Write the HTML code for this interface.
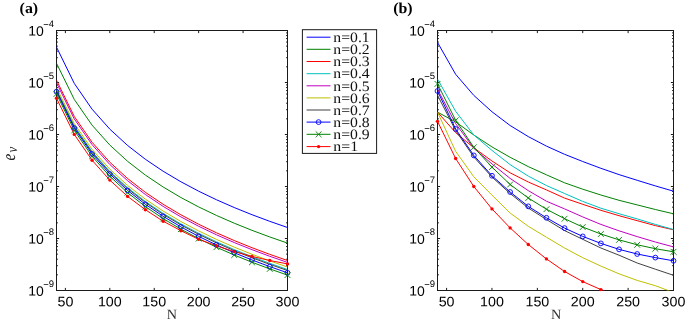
<!DOCTYPE html>
<html lang="en"><head><meta charset="utf-8"><title>Figure</title>
<style>html,body{margin:0;padding:0;background:#fff}body{width:685px;height:323px;overflow:hidden}svg{display:block}text{text-rendering:geometricPrecision}</style>
</head><body>
<svg width="685" height="323" viewBox="0 0 685 323">
<defs>
<clipPath id="ca"><rect x="56.5" y="30.5" width="231.0" height="260.0"/></clipPath>
<clipPath id="cb"><rect x="437.5" y="30.5" width="236.0" height="260.0"/></clipPath>
</defs>
<rect width="685" height="323" fill="#fff"/>
<g stroke="#1a1a1a" stroke-width="1" fill="none">
<rect x="56.5" y="30.5" width="231.0" height="260.0"/>
<path d="M65.38 290.5v-2.6M65.38 30.5v2.6 M109.81 290.5v-2.6M109.81 30.5v2.6 M154.23 290.5v-2.6M154.23 30.5v2.6 M198.65 290.5v-2.6M198.65 30.5v2.6 M243.08 290.5v-2.6M243.08 30.5v2.6 M287.50 290.5v-2.6M287.50 30.5v2.6 M56.5 30.50h2.6M287.5 30.50h-2.6 M56.5 66.85h1.4M287.5 66.85h-1.4 M56.5 57.69h1.4M287.5 57.69h-1.4 M56.5 51.19h1.4M287.5 51.19h-1.4 M56.5 46.15h1.4M287.5 46.15h-1.4 M56.5 42.04h1.4M287.5 42.04h-1.4 M56.5 38.55h1.4M287.5 38.55h-1.4 M56.5 35.54h1.4M287.5 35.54h-1.4 M56.5 32.88h1.4M287.5 32.88h-1.4 M56.5 82.50h2.6M287.5 82.50h-2.6 M56.5 118.85h1.4M287.5 118.85h-1.4 M56.5 109.69h1.4M287.5 109.69h-1.4 M56.5 103.19h1.4M287.5 103.19h-1.4 M56.5 98.15h1.4M287.5 98.15h-1.4 M56.5 94.04h1.4M287.5 94.04h-1.4 M56.5 90.55h1.4M287.5 90.55h-1.4 M56.5 87.54h1.4M287.5 87.54h-1.4 M56.5 84.88h1.4M287.5 84.88h-1.4 M56.5 134.50h2.6M287.5 134.50h-2.6 M56.5 170.85h1.4M287.5 170.85h-1.4 M56.5 161.69h1.4M287.5 161.69h-1.4 M56.5 155.19h1.4M287.5 155.19h-1.4 M56.5 150.15h1.4M287.5 150.15h-1.4 M56.5 146.04h1.4M287.5 146.04h-1.4 M56.5 142.55h1.4M287.5 142.55h-1.4 M56.5 139.54h1.4M287.5 139.54h-1.4 M56.5 136.88h1.4M287.5 136.88h-1.4 M56.5 186.50h2.6M287.5 186.50h-2.6 M56.5 222.85h1.4M287.5 222.85h-1.4 M56.5 213.69h1.4M287.5 213.69h-1.4 M56.5 207.19h1.4M287.5 207.19h-1.4 M56.5 202.15h1.4M287.5 202.15h-1.4 M56.5 198.04h1.4M287.5 198.04h-1.4 M56.5 194.55h1.4M287.5 194.55h-1.4 M56.5 191.54h1.4M287.5 191.54h-1.4 M56.5 188.88h1.4M287.5 188.88h-1.4 M56.5 238.50h2.6M287.5 238.50h-2.6 M56.5 274.85h1.4M287.5 274.85h-1.4 M56.5 265.69h1.4M287.5 265.69h-1.4 M56.5 259.19h1.4M287.5 259.19h-1.4 M56.5 254.15h1.4M287.5 254.15h-1.4 M56.5 250.04h1.4M287.5 250.04h-1.4 M56.5 246.55h1.4M287.5 246.55h-1.4 M56.5 243.54h1.4M287.5 243.54h-1.4 M56.5 240.88h1.4M287.5 240.88h-1.4 M56.5 290.50h2.6M287.5 290.50h-2.6"/>
</g>
<g font-family="'Liberation Sans', Arial, sans-serif" fill="#000">
<text transform="translate(65.38 306.3) rotate(0.2) scale(1.04 1)" font-size="13.7" text-anchor="middle">50</text>
<text transform="translate(109.81 306.3) rotate(0.2) scale(1.04 1)" font-size="13.7" text-anchor="middle">100</text>
<text transform="translate(154.23 306.3) rotate(0.2) scale(1.04 1)" font-size="13.7" text-anchor="middle">150</text>
<text transform="translate(198.65 306.3) rotate(0.2) scale(1.04 1)" font-size="13.7" text-anchor="middle">200</text>
<text transform="translate(243.08 306.3) rotate(0.2) scale(1.04 1)" font-size="13.7" text-anchor="middle">250</text>
<text transform="translate(287.50 306.3) rotate(0.2) scale(1.04 1)" font-size="13.7" text-anchor="middle">300</text>
<text transform="translate(28.20 35.60) rotate(0.2) scale(1.02 1)" font-size="13.7">10</text>
<text transform="translate(43.20 26.90) rotate(0.2) scale(1.0 1)" font-size="9.5"><tspan dy="0.7">−</tspan><tspan dy="-0.7">4</tspan></text>
<text transform="translate(28.20 87.60) rotate(0.2) scale(1.02 1)" font-size="13.7">10</text>
<text transform="translate(43.20 78.90) rotate(0.2) scale(1.0 1)" font-size="9.5"><tspan dy="0.7">−</tspan><tspan dy="-0.7">5</tspan></text>
<text transform="translate(28.20 139.60) rotate(0.2) scale(1.02 1)" font-size="13.7">10</text>
<text transform="translate(43.20 130.90) rotate(0.2) scale(1.0 1)" font-size="9.5"><tspan dy="0.7">−</tspan><tspan dy="-0.7">6</tspan></text>
<text transform="translate(28.20 191.60) rotate(0.2) scale(1.02 1)" font-size="13.7">10</text>
<text transform="translate(43.20 182.90) rotate(0.2) scale(1.0 1)" font-size="9.5"><tspan dy="0.7">−</tspan><tspan dy="-0.7">7</tspan></text>
<text transform="translate(28.20 243.60) rotate(0.2) scale(1.02 1)" font-size="13.7">10</text>
<text transform="translate(43.20 234.90) rotate(0.2) scale(1.0 1)" font-size="9.5"><tspan dy="0.7">−</tspan><tspan dy="-0.7">8</tspan></text>
<text transform="translate(28.20 295.60) rotate(0.2) scale(1.02 1)" font-size="13.7">10</text>
<text transform="translate(43.20 286.90) rotate(0.2) scale(1.0 1)" font-size="9.5"><tspan dy="0.7">−</tspan><tspan dy="-0.7">9</tspan></text>
</g>
<text x="171.90" y="319.3" font-family="'Liberation Serif', serif" font-size="14.2" text-anchor="middle" fill="#333">N</text>
<g clip-path="url(#ca)" fill="none" stroke-linejoin="round">
<polyline points="56.50,47.10 74.27,83.40 92.04,109.16 109.81,129.14 127.58,145.46 145.35,159.26 163.12,171.22 180.88,181.76 198.65,191.20 216.42,199.73 234.19,207.52 251.96,214.69 269.73,221.32 287.50,227.50" stroke="#0000ff" stroke-width="1.0"/>
<polyline points="56.50,63.25 74.27,99.44 92.04,125.12 109.81,145.04 127.58,161.31 145.35,175.07 163.12,186.99 180.88,197.50 198.65,206.91 216.42,215.42 234.19,223.18 251.96,230.33 269.73,236.94 287.50,243.10" stroke="#008000" stroke-width="1.0"/>
<polyline points="56.50,80.20 74.27,116.48 92.04,142.23 109.81,162.19 127.58,178.51 145.35,192.30 163.12,204.25 180.88,214.79 198.65,224.22 216.42,232.75 234.19,240.53 251.96,247.69 269.73,254.33 287.50,260.50" stroke="#ff0000" stroke-width="1.0"/>
<polyline points="56.50,89.70 74.27,125.88 92.04,151.55 109.81,171.47 127.58,187.73 145.35,201.49 163.12,213.41 180.88,223.92 198.65,233.32 216.42,241.82 234.19,249.59 251.96,256.73 269.73,263.34 287.50,269.50" stroke="#00bfbf" stroke-width="1.0"/>
<polyline points="56.50,82.80 74.27,118.94 92.04,144.58 109.81,164.47 127.58,180.73 145.35,194.47 163.12,206.37 180.88,216.87 198.65,226.26 216.42,234.75 234.19,242.51 251.96,249.64 269.73,256.25 287.50,262.40" stroke="#bf00bf" stroke-width="1.0"/>
<polyline points="56.50,87.60 74.27,123.70 92.04,149.32 109.81,169.18 127.58,185.42 145.35,199.14 163.12,211.03 180.88,221.52 198.65,230.90 216.42,239.38 234.19,247.13 251.96,254.26 269.73,260.86 287.50,267.00" stroke="#bfbf00" stroke-width="1.0"/>
<polyline points="56.50,90.60 74.27,126.80 92.04,152.49 109.81,172.41 127.58,188.69 145.35,202.45 163.12,214.37 180.88,224.89 198.65,234.30 216.42,242.81 234.19,250.58 251.96,257.72 269.73,264.34 287.50,270.50" stroke="#404040" stroke-width="1.0"/>
<polyline points="56.50,91.70 74.27,128.14 92.04,154.00 109.81,174.06 127.58,190.44 145.35,204.30 163.12,216.30 180.88,226.89 198.65,236.36 216.42,244.92 234.19,252.74 251.96,259.94 269.73,266.60 287.50,272.80" stroke="#0000ff" stroke-width="1.0"/>
<polyline points="56.50,93.90 74.27,130.36 92.04,156.23 109.81,176.30 127.58,192.70 145.35,206.56 163.12,218.57 180.88,229.16 198.65,238.64 216.42,247.21 234.19,255.03 251.96,262.23 269.73,268.90 287.50,275.10" stroke="#008000" stroke-width="1.0"/>
<polyline points="56.50,98.30 74.27,134.40 92.04,160.20 109.81,180.10 127.58,196.40 145.35,209.70 163.12,221.20 180.88,230.70 198.65,239.30 216.42,245.80 234.19,251.60 251.96,256.40 269.73,260.50 287.50,263.90" stroke="#ff0000" stroke-width="1.0"/>
</g>
<circle cx="56.50" cy="91.70" r="2.4" fill="none" stroke="#0000ff" stroke-width="0.9"/>
<circle cx="74.27" cy="128.14" r="2.4" fill="none" stroke="#0000ff" stroke-width="0.9"/>
<circle cx="92.04" cy="154.00" r="2.4" fill="none" stroke="#0000ff" stroke-width="0.9"/>
<circle cx="109.81" cy="174.06" r="2.4" fill="none" stroke="#0000ff" stroke-width="0.9"/>
<circle cx="127.58" cy="190.44" r="2.4" fill="none" stroke="#0000ff" stroke-width="0.9"/>
<circle cx="145.35" cy="204.30" r="2.4" fill="none" stroke="#0000ff" stroke-width="0.9"/>
<circle cx="163.12" cy="216.30" r="2.4" fill="none" stroke="#0000ff" stroke-width="0.9"/>
<circle cx="180.88" cy="226.89" r="2.4" fill="none" stroke="#0000ff" stroke-width="0.9"/>
<circle cx="198.65" cy="236.36" r="2.4" fill="none" stroke="#0000ff" stroke-width="0.9"/>
<circle cx="216.42" cy="244.92" r="2.4" fill="none" stroke="#0000ff" stroke-width="0.9"/>
<circle cx="234.19" cy="252.74" r="2.4" fill="none" stroke="#0000ff" stroke-width="0.9"/>
<circle cx="251.96" cy="259.94" r="2.4" fill="none" stroke="#0000ff" stroke-width="0.9"/>
<circle cx="269.73" cy="266.60" r="2.4" fill="none" stroke="#0000ff" stroke-width="0.9"/>
<circle cx="287.50" cy="272.80" r="2.4" fill="none" stroke="#0000ff" stroke-width="0.9"/>
<path d="M53.60 91.00L59.40 96.80M53.60 96.80L59.40 91.00" stroke="#008000" stroke-width="0.9" fill="none"/>
<path d="M71.37 127.46L77.17 133.26M71.37 133.26L77.17 127.46" stroke="#008000" stroke-width="0.9" fill="none"/>
<path d="M89.14 153.33L94.94 159.13M89.14 159.13L94.94 153.33" stroke="#008000" stroke-width="0.9" fill="none"/>
<path d="M106.91 173.40L112.71 179.20M106.91 179.20L112.71 173.40" stroke="#008000" stroke-width="0.9" fill="none"/>
<path d="M124.68 189.80L130.48 195.60M124.68 195.60L130.48 189.80" stroke="#008000" stroke-width="0.9" fill="none"/>
<path d="M142.45 203.66L148.25 209.46M142.45 209.46L148.25 203.66" stroke="#008000" stroke-width="0.9" fill="none"/>
<path d="M160.22 215.67L166.02 221.47M160.22 221.47L166.02 215.67" stroke="#008000" stroke-width="0.9" fill="none"/>
<path d="M177.98 226.26L183.78 232.06M177.98 232.06L183.78 226.26" stroke="#008000" stroke-width="0.9" fill="none"/>
<path d="M195.75 235.74L201.55 241.54M195.75 241.54L201.55 235.74" stroke="#008000" stroke-width="0.9" fill="none"/>
<path d="M213.52 244.31L219.32 250.11M213.52 250.11L219.32 244.31" stroke="#008000" stroke-width="0.9" fill="none"/>
<path d="M231.29 252.13L237.09 257.93M231.29 257.93L237.09 252.13" stroke="#008000" stroke-width="0.9" fill="none"/>
<path d="M249.06 259.33L254.86 265.13M249.06 265.13L254.86 259.33" stroke="#008000" stroke-width="0.9" fill="none"/>
<path d="M266.83 266.00L272.63 271.80M266.83 271.80L272.63 266.00" stroke="#008000" stroke-width="0.9" fill="none"/>
<path d="M284.60 272.20L290.40 278.00M284.60 278.00L290.40 272.20" stroke="#008000" stroke-width="0.9" fill="none"/>
<circle cx="56.50" cy="98.30" r="1.7" fill="#ff0000"/>
<circle cx="74.27" cy="134.40" r="1.7" fill="#ff0000"/>
<circle cx="92.04" cy="160.20" r="1.7" fill="#ff0000"/>
<circle cx="109.81" cy="180.10" r="1.7" fill="#ff0000"/>
<circle cx="127.58" cy="196.40" r="1.7" fill="#ff0000"/>
<circle cx="145.35" cy="209.70" r="1.7" fill="#ff0000"/>
<circle cx="163.12" cy="221.20" r="1.7" fill="#ff0000"/>
<circle cx="180.88" cy="230.70" r="1.7" fill="#ff0000"/>
<circle cx="198.65" cy="239.30" r="1.7" fill="#ff0000"/>
<circle cx="216.42" cy="245.80" r="1.7" fill="#ff0000"/>
<circle cx="234.19" cy="251.60" r="1.7" fill="#ff0000"/>
<circle cx="251.96" cy="256.40" r="1.7" fill="#ff0000"/>
<circle cx="269.73" cy="260.50" r="1.7" fill="#ff0000"/>
<circle cx="287.50" cy="263.90" r="1.7" fill="#ff0000"/>
<g stroke="#1a1a1a" stroke-width="1" fill="none">
<rect x="437.5" y="30.5" width="236.0" height="260.0"/>
<path d="M446.58 290.5v-2.6M446.58 30.5v2.6 M491.96 290.5v-2.6M491.96 30.5v2.6 M537.35 290.5v-2.6M537.35 30.5v2.6 M582.73 290.5v-2.6M582.73 30.5v2.6 M628.12 290.5v-2.6M628.12 30.5v2.6 M673.50 290.5v-2.6M673.50 30.5v2.6 M437.5 30.50h2.6M673.5 30.50h-2.6 M437.5 66.85h1.4M673.5 66.85h-1.4 M437.5 57.69h1.4M673.5 57.69h-1.4 M437.5 51.19h1.4M673.5 51.19h-1.4 M437.5 46.15h1.4M673.5 46.15h-1.4 M437.5 42.04h1.4M673.5 42.04h-1.4 M437.5 38.55h1.4M673.5 38.55h-1.4 M437.5 35.54h1.4M673.5 35.54h-1.4 M437.5 32.88h1.4M673.5 32.88h-1.4 M437.5 82.50h2.6M673.5 82.50h-2.6 M437.5 118.85h1.4M673.5 118.85h-1.4 M437.5 109.69h1.4M673.5 109.69h-1.4 M437.5 103.19h1.4M673.5 103.19h-1.4 M437.5 98.15h1.4M673.5 98.15h-1.4 M437.5 94.04h1.4M673.5 94.04h-1.4 M437.5 90.55h1.4M673.5 90.55h-1.4 M437.5 87.54h1.4M673.5 87.54h-1.4 M437.5 84.88h1.4M673.5 84.88h-1.4 M437.5 134.50h2.6M673.5 134.50h-2.6 M437.5 170.85h1.4M673.5 170.85h-1.4 M437.5 161.69h1.4M673.5 161.69h-1.4 M437.5 155.19h1.4M673.5 155.19h-1.4 M437.5 150.15h1.4M673.5 150.15h-1.4 M437.5 146.04h1.4M673.5 146.04h-1.4 M437.5 142.55h1.4M673.5 142.55h-1.4 M437.5 139.54h1.4M673.5 139.54h-1.4 M437.5 136.88h1.4M673.5 136.88h-1.4 M437.5 186.50h2.6M673.5 186.50h-2.6 M437.5 222.85h1.4M673.5 222.85h-1.4 M437.5 213.69h1.4M673.5 213.69h-1.4 M437.5 207.19h1.4M673.5 207.19h-1.4 M437.5 202.15h1.4M673.5 202.15h-1.4 M437.5 198.04h1.4M673.5 198.04h-1.4 M437.5 194.55h1.4M673.5 194.55h-1.4 M437.5 191.54h1.4M673.5 191.54h-1.4 M437.5 188.88h1.4M673.5 188.88h-1.4 M437.5 238.50h2.6M673.5 238.50h-2.6 M437.5 274.85h1.4M673.5 274.85h-1.4 M437.5 265.69h1.4M673.5 265.69h-1.4 M437.5 259.19h1.4M673.5 259.19h-1.4 M437.5 254.15h1.4M673.5 254.15h-1.4 M437.5 250.04h1.4M673.5 250.04h-1.4 M437.5 246.55h1.4M673.5 246.55h-1.4 M437.5 243.54h1.4M673.5 243.54h-1.4 M437.5 240.88h1.4M673.5 240.88h-1.4 M437.5 290.50h2.6M673.5 290.50h-2.6"/>
</g>
<g font-family="'Liberation Sans', Arial, sans-serif" fill="#000">
<text transform="translate(446.58 306.3) rotate(0.2) scale(1.04 1)" font-size="13.7" text-anchor="middle">50</text>
<text transform="translate(491.96 306.3) rotate(0.2) scale(1.04 1)" font-size="13.7" text-anchor="middle">100</text>
<text transform="translate(537.35 306.3) rotate(0.2) scale(1.04 1)" font-size="13.7" text-anchor="middle">150</text>
<text transform="translate(582.73 306.3) rotate(0.2) scale(1.04 1)" font-size="13.7" text-anchor="middle">200</text>
<text transform="translate(628.12 306.3) rotate(0.2) scale(1.04 1)" font-size="13.7" text-anchor="middle">250</text>
<text transform="translate(673.50 306.3) rotate(0.2) scale(1.04 1)" font-size="13.7" text-anchor="middle">300</text>
<text transform="translate(409.20 35.60) rotate(0.2) scale(1.02 1)" font-size="13.7">10</text>
<text transform="translate(424.20 26.90) rotate(0.2) scale(1.0 1)" font-size="9.5"><tspan dy="0.7">−</tspan><tspan dy="-0.7">4</tspan></text>
<text transform="translate(409.20 87.60) rotate(0.2) scale(1.02 1)" font-size="13.7">10</text>
<text transform="translate(424.20 78.90) rotate(0.2) scale(1.0 1)" font-size="9.5"><tspan dy="0.7">−</tspan><tspan dy="-0.7">5</tspan></text>
<text transform="translate(409.20 139.60) rotate(0.2) scale(1.02 1)" font-size="13.7">10</text>
<text transform="translate(424.20 130.90) rotate(0.2) scale(1.0 1)" font-size="9.5"><tspan dy="0.7">−</tspan><tspan dy="-0.7">6</tspan></text>
<text transform="translate(409.20 191.60) rotate(0.2) scale(1.02 1)" font-size="13.7">10</text>
<text transform="translate(424.20 182.90) rotate(0.2) scale(1.0 1)" font-size="9.5"><tspan dy="0.7">−</tspan><tspan dy="-0.7">7</tspan></text>
<text transform="translate(409.20 243.60) rotate(0.2) scale(1.02 1)" font-size="13.7">10</text>
<text transform="translate(424.20 234.90) rotate(0.2) scale(1.0 1)" font-size="9.5"><tspan dy="0.7">−</tspan><tspan dy="-0.7">8</tspan></text>
<text transform="translate(409.20 295.60) rotate(0.2) scale(1.02 1)" font-size="13.7">10</text>
<text transform="translate(424.20 286.90) rotate(0.2) scale(1.0 1)" font-size="9.5"><tspan dy="0.7">−</tspan><tspan dy="-0.7">9</tspan></text>
</g>
<text x="556.00" y="319.3" font-family="'Liberation Serif', serif" font-size="14.2" text-anchor="middle" fill="#333">N</text>
<g clip-path="url(#cb)" fill="none" stroke-linejoin="round">
<polyline points="437.50,42.40 455.65,74.30 473.81,95.40 491.96,111.75 510.12,125.50 528.27,136.60 546.42,146.10 564.58,154.30 582.73,161.50 600.88,168.30 619.04,174.60 637.19,180.30 655.35,185.90 673.50,191.20" stroke="#0000ff" stroke-width="1.0"/>
<polyline points="437.50,112.15 455.65,121.90 473.81,135.00 491.96,146.90 510.12,157.30 528.27,166.60 546.42,174.80 564.58,182.80 582.73,189.20 600.88,195.00 619.04,200.30 637.19,204.90 655.35,209.50 673.50,213.80" stroke="#008000" stroke-width="1.0"/>
<polyline points="437.50,112.15 455.65,132.60 473.81,147.80 491.96,161.00 510.12,172.80 528.27,182.00 546.42,189.90 564.58,198.10 582.73,204.30 600.88,210.30 619.04,215.70 637.19,220.70 655.35,225.60 673.50,229.80" stroke="#ff0000" stroke-width="1.0"/>
<polyline points="437.50,79.10 455.65,111.30 473.81,135.00 491.96,150.40 510.12,164.60 528.27,176.10 546.42,185.50 564.58,193.50 582.73,201.40 600.88,208.20 619.04,213.70 637.19,218.90 655.35,224.40 673.50,229.50" stroke="#00bfbf" stroke-width="1.0"/>
<polyline points="437.50,89.30 455.65,123.60 473.81,148.30 491.96,163.90 510.12,178.40 528.27,190.60 546.42,201.20 564.58,208.90 582.73,216.90 600.88,224.40 619.04,230.80 637.19,236.60 655.35,242.00 673.50,246.90" stroke="#bf00bf" stroke-width="1.0"/>
<polyline points="437.50,112.15 455.65,151.35 473.81,176.75 491.96,195.10 510.12,213.00 528.27,226.30 546.42,237.20 564.58,248.00 582.73,257.70 600.88,266.10 619.04,273.80 637.19,280.40 655.35,285.70 673.50,292.50" stroke="#bfbf00" stroke-width="1.0"/>
<polyline points="437.50,95.20 455.65,130.50 473.81,157.00 491.96,177.00 510.12,193.50 528.27,208.00 546.42,219.50 564.58,230.60 582.73,239.30 600.88,248.00 619.04,255.20 637.19,263.00 655.35,269.20 673.50,275.30" stroke="#404040" stroke-width="1.0"/>
<polyline points="437.50,91.00 455.65,129.00 473.81,155.40 491.96,175.75 510.12,192.00 528.27,206.35 546.42,217.80 564.58,228.10 582.73,236.40 600.88,243.40 619.04,249.35 637.19,254.00 655.35,257.60 673.50,260.80" stroke="#0000ff" stroke-width="1.0"/>
<polyline points="437.50,83.90 455.65,120.30 473.81,147.30 491.96,167.10 510.12,184.50 528.27,198.00 546.42,209.20 564.58,218.70 582.73,227.05 600.88,234.00 619.04,239.85 637.19,244.80 655.35,248.70 673.50,251.80" stroke="#008000" stroke-width="1.0"/>
<polyline points="437.50,121.35 455.65,158.50 473.81,186.50 491.96,208.90 510.12,227.90 528.27,244.50 546.42,258.90 564.58,271.50 582.73,281.60 600.88,289.60 619.04,297.00" stroke="#ff0000" stroke-width="1.0"/>
</g>
<circle cx="437.50" cy="91.00" r="2.4" fill="none" stroke="#0000ff" stroke-width="0.9"/>
<circle cx="455.65" cy="129.00" r="2.4" fill="none" stroke="#0000ff" stroke-width="0.9"/>
<circle cx="473.81" cy="155.40" r="2.4" fill="none" stroke="#0000ff" stroke-width="0.9"/>
<circle cx="491.96" cy="175.75" r="2.4" fill="none" stroke="#0000ff" stroke-width="0.9"/>
<circle cx="510.12" cy="192.00" r="2.4" fill="none" stroke="#0000ff" stroke-width="0.9"/>
<circle cx="528.27" cy="206.35" r="2.4" fill="none" stroke="#0000ff" stroke-width="0.9"/>
<circle cx="546.42" cy="217.80" r="2.4" fill="none" stroke="#0000ff" stroke-width="0.9"/>
<circle cx="564.58" cy="228.10" r="2.4" fill="none" stroke="#0000ff" stroke-width="0.9"/>
<circle cx="582.73" cy="236.40" r="2.4" fill="none" stroke="#0000ff" stroke-width="0.9"/>
<circle cx="600.88" cy="243.40" r="2.4" fill="none" stroke="#0000ff" stroke-width="0.9"/>
<circle cx="619.04" cy="249.35" r="2.4" fill="none" stroke="#0000ff" stroke-width="0.9"/>
<circle cx="637.19" cy="254.00" r="2.4" fill="none" stroke="#0000ff" stroke-width="0.9"/>
<circle cx="655.35" cy="257.60" r="2.4" fill="none" stroke="#0000ff" stroke-width="0.9"/>
<circle cx="673.50" cy="260.80" r="2.4" fill="none" stroke="#0000ff" stroke-width="0.9"/>
<path d="M434.60 81.00L440.40 86.80M434.60 86.80L440.40 81.00" stroke="#008000" stroke-width="0.9" fill="none"/>
<path d="M452.75 117.40L458.55 123.20M452.75 123.20L458.55 117.40" stroke="#008000" stroke-width="0.9" fill="none"/>
<path d="M470.91 144.40L476.71 150.20M470.91 150.20L476.71 144.40" stroke="#008000" stroke-width="0.9" fill="none"/>
<path d="M489.06 164.20L494.86 170.00M489.06 170.00L494.86 164.20" stroke="#008000" stroke-width="0.9" fill="none"/>
<path d="M507.22 181.60L513.02 187.40M507.22 187.40L513.02 181.60" stroke="#008000" stroke-width="0.9" fill="none"/>
<path d="M525.37 195.10L531.17 200.90M525.37 200.90L531.17 195.10" stroke="#008000" stroke-width="0.9" fill="none"/>
<path d="M543.52 206.30L549.32 212.10M543.52 212.10L549.32 206.30" stroke="#008000" stroke-width="0.9" fill="none"/>
<path d="M561.68 215.80L567.48 221.60M561.68 221.60L567.48 215.80" stroke="#008000" stroke-width="0.9" fill="none"/>
<path d="M579.83 224.15L585.63 229.95M579.83 229.95L585.63 224.15" stroke="#008000" stroke-width="0.9" fill="none"/>
<path d="M597.98 231.10L603.78 236.90M597.98 236.90L603.78 231.10" stroke="#008000" stroke-width="0.9" fill="none"/>
<path d="M616.14 236.95L621.94 242.75M616.14 242.75L621.94 236.95" stroke="#008000" stroke-width="0.9" fill="none"/>
<path d="M634.29 241.90L640.09 247.70M634.29 247.70L640.09 241.90" stroke="#008000" stroke-width="0.9" fill="none"/>
<path d="M652.45 245.80L658.25 251.60M652.45 251.60L658.25 245.80" stroke="#008000" stroke-width="0.9" fill="none"/>
<path d="M670.60 248.90L676.40 254.70M670.60 254.70L676.40 248.90" stroke="#008000" stroke-width="0.9" fill="none"/>
<circle cx="437.50" cy="121.35" r="1.7" fill="#ff0000"/>
<circle cx="455.65" cy="158.50" r="1.7" fill="#ff0000"/>
<circle cx="473.81" cy="186.50" r="1.7" fill="#ff0000"/>
<circle cx="491.96" cy="208.90" r="1.7" fill="#ff0000"/>
<circle cx="510.12" cy="227.90" r="1.7" fill="#ff0000"/>
<circle cx="528.27" cy="244.50" r="1.7" fill="#ff0000"/>
<circle cx="546.42" cy="258.90" r="1.7" fill="#ff0000"/>
<circle cx="564.58" cy="271.50" r="1.7" fill="#ff0000"/>
<circle cx="582.73" cy="281.60" r="1.7" fill="#ff0000"/>
<circle cx="600.88" cy="289.60" r="1.7" fill="#ff0000"/>
<g font-family="'Liberation Serif', serif" font-weight="bold" font-size="15" fill="#000">
<text transform="translate(19.6 13.4) scale(1.06 1)">(a)</text>
<text transform="translate(393.2 13.4) scale(1.06 1)">(b)</text>
</g>
<g font-family="'Liberation Serif', serif" font-style="italic" fill="#222">
<text transform="translate(14.6 160.6) rotate(-90) scale(0.8 1)" font-size="19">e</text>
<text transform="translate(17.2 152.6) rotate(-90) scale(0.85 1)" font-size="15">v</text>
</g>
<rect x="302.4" y="29.7" width="74.20000000000005" height="123.7" fill="#fff" stroke="#1a1a1a" stroke-width="1"/>
<path d="M306.6 37.2H330.5" stroke="#0000ff" stroke-width="1.0" fill="none"/>
<text x="333.3" y="41.90" font-family="'Liberation Serif', serif" font-size="14.4" fill="#111" textLength="36.4" lengthAdjust="spacingAndGlyphs">n=0.1</text>
<path d="M306.6 49.3H330.5" stroke="#008000" stroke-width="1.0" fill="none"/>
<text x="333.3" y="54.00" font-family="'Liberation Serif', serif" font-size="14.4" fill="#111" textLength="36.4" lengthAdjust="spacingAndGlyphs">n=0.2</text>
<path d="M306.6 61.5H330.5" stroke="#ff0000" stroke-width="1.0" fill="none"/>
<text x="333.3" y="66.20" font-family="'Liberation Serif', serif" font-size="14.4" fill="#111" textLength="36.4" lengthAdjust="spacingAndGlyphs">n=0.3</text>
<path d="M306.6 73.7H330.5" stroke="#00bfbf" stroke-width="1.0" fill="none"/>
<text x="333.3" y="78.40" font-family="'Liberation Serif', serif" font-size="14.4" fill="#111" textLength="36.4" lengthAdjust="spacingAndGlyphs">n=0.4</text>
<path d="M306.6 85.8H330.5" stroke="#bf00bf" stroke-width="1.0" fill="none"/>
<text x="333.3" y="90.50" font-family="'Liberation Serif', serif" font-size="14.4" fill="#111" textLength="36.4" lengthAdjust="spacingAndGlyphs">n=0.5</text>
<path d="M306.6 97.9H330.5" stroke="#bfbf00" stroke-width="1.0" fill="none"/>
<text x="333.3" y="102.60" font-family="'Liberation Serif', serif" font-size="14.4" fill="#111" textLength="36.4" lengthAdjust="spacingAndGlyphs">n=0.6</text>
<path d="M306.6 110.0H330.5" stroke="#404040" stroke-width="1.0" fill="none"/>
<text x="333.3" y="114.70" font-family="'Liberation Serif', serif" font-size="14.4" fill="#111" textLength="36.4" lengthAdjust="spacingAndGlyphs">n=0.7</text>
<path d="M306.6 122.1H330.5" stroke="#0000ff" stroke-width="1.0" fill="none"/>
<circle cx="318.60" cy="122.10" r="2.4" fill="none" stroke="#0000ff" stroke-width="0.9"/>
<text x="333.3" y="126.80" font-family="'Liberation Serif', serif" font-size="14.4" fill="#111" textLength="36.4" lengthAdjust="spacingAndGlyphs">n=0.8</text>
<path d="M306.6 134.3H330.5" stroke="#008000" stroke-width="1.0" fill="none"/>
<path d="M315.70 131.40L321.50 137.20M315.70 137.20L321.50 131.40" stroke="#008000" stroke-width="0.9" fill="none"/>
<text x="333.3" y="139.00" font-family="'Liberation Serif', serif" font-size="14.4" fill="#111" textLength="36.4" lengthAdjust="spacingAndGlyphs">n=0.9</text>
<path d="M306.6 146.6H330.5" stroke="#ff0000" stroke-width="1.0" fill="none"/>
<circle cx="318.60" cy="146.60" r="1.7" fill="#ff0000"/>
<text x="333.3" y="151.30" font-family="'Liberation Serif', serif" font-size="14.4" fill="#111" textLength="24.8" lengthAdjust="spacingAndGlyphs">n=1</text>
</svg>
</body></html>
